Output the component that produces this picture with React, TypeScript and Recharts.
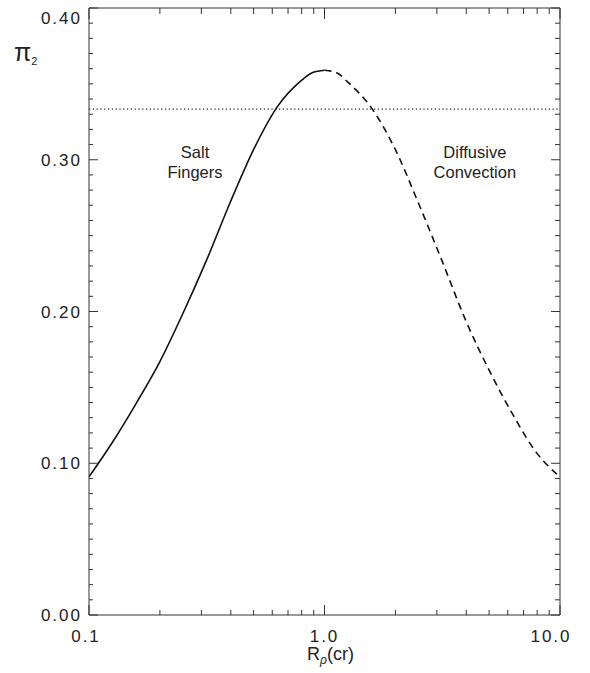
import React from 'react';
import { LineChart, Line, XAxis, YAxis, ReferenceLine, ReferenceDot } from 'recharts';

// salt-finger branch (solid), R_rho <= 1
const fingersRho = [0.1, 0.126, 0.158, 0.2, 0.251, 0.316, 0.398, 0.501, 0.631, 0.794, 0.891, 1.0];
const fingersPi = [0.091, 0.114, 0.139, 0.167, 0.199, 0.234, 0.272, 0.307, 0.335, 0.352, 0.3575, 0.359];

// diffusive-convection branch (dashed), R_rho >= 1
const diffusiveRho = [1.0, 1.122, 1.259, 1.585, 1.995, 2.512, 3.162, 3.981, 5.012, 6.31, 7.943, 10];
const diffusivePi = [0.359, 0.3575, 0.351, 0.334, 0.307, 0.271, 0.233, 0.194, 0.161, 0.132, 0.107, 0.091];

const thresholdPi = 1 / 3;

const xMajor = [0.1, 1, 10];
const xLabels = ['0.1', '1.0', '10.0'];
const xMinor = [0.2, 0.3, 0.4, 0.5, 0.6, 0.7, 0.8, 0.9, 2, 3, 4, 5, 6, 7, 8, 9];
const yMajor = [0, 0.1, 0.2, 0.3, 0.4];
const yLabels = ['0.00', '0.10', '0.20', '0.30', '0.40'];
const yMinorSteps = 40;

const fingers = fingersRho.map((rho, i) => ({ rho, pi: fingersPi[i] }));
const diffusive = diffusiveRho.map((rho, i) => ({ rho, pi: diffusivePi[i] }));
const xTicks = [...xMajor, ...xMinor].sort((a, b) => a - b);
const yTicks = Array.from({ length: yMinorSteps + 1 }, (_, i) => i / 100);

const AXIS = '#333';
const FONT = '"Liberation Sans", Arial, sans-serif';

const majorIndex = (list: number[], v: number) => list.findIndex((m) => Math.abs(m - v) < 1e-9);

const BottomTick = (props: any) => {
  const { x, y, payload } = props;
  const i = majorIndex(xMajor, payload.value);
  const shift = i === 2 ? -9 : i === 0 ? -3 : 0;
  return (
    <g>
      <line x1={x} x2={x} y1={y} y2={y - (i >= 0 ? 10 : 5)} stroke={AXIS} />
      {i >= 0 && (
        <text x={x + shift} y={y + 27} textAnchor="middle" fontSize={17} letterSpacing={2} fill="#222" fontFamily={FONT}>
          {xLabels[i]}
        </text>
      )}
    </g>
  );
};

const TopTick = (props: any) => {
  const { x, y, payload } = props;
  const i = majorIndex(xMajor, payload.value);
  return <line x1={x} x2={x} y1={y} y2={y + (i >= 0 ? 11 : 6)} stroke={AXIS} />;
};

const LeftTick = (props: any) => {
  const { x, y, payload } = props;
  const i = majorIndex(yMajor, payload.value);
  const dy = i === 4 ? 16 : 6;
  return (
    <g>
      <line x1={x} x2={x + (i >= 0 ? 9 : 4)} y1={y} y2={y} stroke={AXIS} />
      {i >= 0 && (
        <text x={x - 7} y={y + dy} textAnchor="end" fontSize={17} letterSpacing={2} fill="#222" fontFamily={FONT}>
          {yLabels[i]}
        </text>
      )}
    </g>
  );
};

const RightTick = (props: any) => {
  const { x, y, payload } = props;
  const i = majorIndex(yMajor, payload.value);
  return <line x1={x} x2={x - (i >= 0 ? 9 : 5)} y1={y} y2={y} stroke={AXIS} />;
};

const regionLabel = (lines: string[]) => (p: any) => {
  const vb = p.viewBox || {};
  const cx = (vb.x ?? 0) + (vb.width ?? 0) / 2;
  const cy = (vb.y ?? 0) + (vb.height ?? 0) / 2;
  return (
    <text x={cx} y={cy - 5} textAnchor="middle" fontSize={16.5} fill="#222" fontFamily={FONT}>
      <tspan x={cx}>{lines[0]}</tspan>
      <tspan x={cx} dy={20}>{lines[1]}</tspan>
    </text>
  );
};

export default function App() {
  return (
    <div style={{ position: 'absolute', left: 0, top: 0 }}>
      <LineChart width={590} height={673} margin={{ top: 7, right: 29, left: 0, bottom: 0 }}>
        <XAxis
          dataKey="rho"
          type="number"
          scale="log"
          domain={[0.1, 10]}
          allowDataOverflow
          ticks={xTicks}
          interval={0}
          height={58}
          tickSize={0}
          tickMargin={0}
          tick={<BottomTick />}
          tickLine={false}
          axisLine={{ stroke: AXIS }}
          label={{
            content: (p: any) => {
              const vb = p.viewBox || {};
              const cx = (vb.x ?? 0) + (vb.width ?? 0) / 2 + 6;
              return (
                <text x={cx} y={(vb.y ?? 0) + 45} textAnchor="middle" fontSize={18} fill="#222" fontFamily={FONT}>
                  R
                  <tspan fontSize={12} fontStyle="italic" dy={4}>ρ</tspan>
                  <tspan dy={-4}>(cr)</tspan>
                </text>
              );
            },
          }}
        />
        <XAxis
          xAxisId="top"
          orientation="top"
          dataKey="rho"
          type="number"
          scale="log"
          domain={[0.1, 10]}
          allowDataOverflow
          ticks={xTicks}
          interval={0}
          height={1}
          tickSize={0}
          tickMargin={0}
          tick={<TopTick />}
          tickLine={false}
          axisLine={{ stroke: AXIS }}
        />
        <YAxis
          type="number"
          domain={[0, 0.4]}
          allowDataOverflow
          ticks={yTicks}
          interval={0}
          width={89}
          tickSize={0}
          tickMargin={0}
          tick={<LeftTick />}
          tickLine={false}
          axisLine={{ stroke: AXIS }}
          label={{
            content: (p: any) => {
              const vb = p.viewBox || {};
              const x0 = (vb.x ?? 0) + 14;
              const y0 = (vb.y ?? 0) + 53;
              return (
                <text x={x0} y={y0} fontSize={25} fill="#222" fontFamily={FONT}>
                  π<tspan fontSize={11} dy={4}>2</tspan>
                </text>
              );
            },
          }}
        />
        <YAxis
          yAxisId="right"
          orientation="right"
          type="number"
          domain={[0, 0.4]}
          allowDataOverflow
          ticks={yTicks}
          interval={0}
          width={1}
          tickSize={0}
          tickMargin={0}
          tick={<RightTick />}
          tickLine={false}
          axisLine={{ stroke: AXIS }}
        />
        <ReferenceLine y={thresholdPi} stroke="#222" strokeWidth={1.2} strokeDasharray="1.2 2.6" />
        <Line
          data={fingers}
          dataKey="pi"
          type="monotone"
          stroke="#111"
          strokeWidth={1.6}
          dot={false}
          isAnimationActive={false}
        />
        <Line
          data={diffusive}
          dataKey="pi"
          type="monotone"
          stroke="#111"
          strokeWidth={1.6}
          strokeDasharray="7 5"
          dot={false}
          isAnimationActive={false}
        />
        <ReferenceDot x={0.282} y={0.298} r={0} fill="none" stroke="none" label={{ content: regionLabel(['Salt', 'Fingers']) }} />
        <ReferenceDot x={4.35} y={0.298} r={0} fill="none" stroke="none" label={{ content: regionLabel(['Diffusive', 'Convection']) }} />
      </LineChart>
    </div>
  );
}
